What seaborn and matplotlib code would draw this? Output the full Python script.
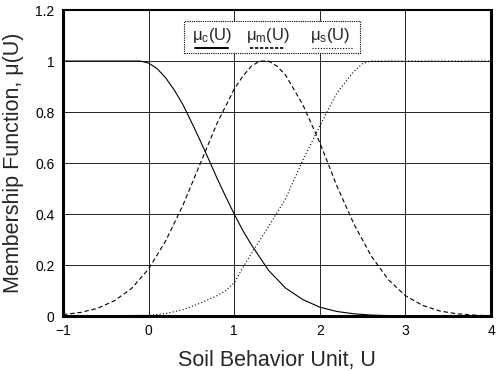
import pandas as pd
import matplotlib.pyplot as plt
import matplotlib.patches as patches
from matplotlib.lines import Line2D
import seaborn as sns

# values
uc_x = [-1.0, -0.5, -0.1, 0.0, 0.1, 0.2, 0.3, 0.4, 0.5, 0.6, 0.7, 0.8, 0.9, 1.0, 1.1, 1.2, 1.4, 1.6, 1.8,
        2.0, 2.2, 2.4, 2.6, 2.8, 3.0, 4.0]
uc_y = [1.0, 1.0, 1.0, 0.992, 0.97, 0.934, 0.886, 0.83, 0.761, 0.69, 0.616, 0.54, 0.469, 0.40, 0.336, 0.28,
        0.18, 0.11, 0.065, 0.035, 0.018, 0.009, 0.004, 0.002, 0.001, 0.0]

um_x = [-1.0, -0.8, -0.6, -0.4, -0.2, 0.0, 0.2, 0.4, 0.6, 0.8, 1.0, 1.1, 1.2, 1.3, 1.4, 1.5, 1.6, 1.8,
        2.0, 2.2, 2.4, 2.6, 2.8, 3.0, 3.2, 3.4, 3.6, 3.8, 4.0]
um_y = [0.006, 0.014, 0.03, 0.06, 0.108, 0.185, 0.295, 0.434, 0.595, 0.756, 0.89, 0.94, 0.98, 1.0, 1.0, 0.98,
        0.945, 0.83, 0.68, 0.51, 0.36, 0.236, 0.143, 0.08, 0.042, 0.02, 0.009, 0.004, 0.001]

us_x = [-1.0, 0.0, 0.2, 0.4, 0.6, 0.8, 0.9, 1.0, 1.1, 1.2, 1.4, 1.6, 1.8, 2.0, 2.2, 2.4, 2.5, 2.6, 3.0, 4.0]
us_y = [0.0, 0.003, 0.01, 0.025, 0.05, 0.08, 0.1, 0.13, 0.19, 0.245, 0.35, 0.46, 0.61, 0.745, 0.875, 0.96,
        0.99, 1.0, 1.0, 1.0]

x_ticks = [-1, 0, 1, 2, 3, 4]
y_ticks = [0, 0.2, 0.4, 0.6, 0.8, 1.0, 1.2]
y_labels = ['0', '0.2', '0.4', '0.6', '0.8', '1', '1.2']
legend_labels = ['μ$_c$(U)', 'μ$_m$(U)', 'μ$_s$(U)']

sns.set_theme(style='white')
plt.rcParams['font.family'] = ['Liberation Sans', 'DejaVu Sans']
plt.rcParams['mathtext.default'] = 'regular'
plt.rcParams['xtick.direction'] = 'in'
plt.rcParams['ytick.direction'] = 'in'

fig = plt.figure(figsize=(5, 3.71), dpi=100)
ax = fig.add_axes([0.126, 0.148, 0.856, 0.825])

# grid first so curves sit on top
ax.grid(True, color='black', linewidth=0.6, linestyle='-')
ax.set_axisbelow(True)

dc = pd.DataFrame({'U': uc_x, 'mu': uc_y})
dm = pd.DataFrame({'U': um_x, 'mu': um_y})
ds = pd.DataFrame({'U': us_x, 'mu': us_y})

dash_m = (0, (4, 2.5))
dot_s = (0, (1, 2))
sns.lineplot(data=dc, x='U', y='mu', color='black', linewidth=0.8, ax=ax)
sns.lineplot(data=dm, x='U', y='mu', color='black', linewidth=0.8, ax=ax, linestyle=dash_m)
sns.lineplot(data=ds, x='U', y='mu', color='black', linewidth=0.8, ax=ax, linestyle=dot_s)

ax.set_xlim(-1, 4)
ax.set_ylim(0, 1.2)
ax.set_xticks(x_ticks)
ax.set_yticks(y_ticks)
ax.set_yticklabels(y_labels)
ax.tick_params(labelsize=10, length=3, width=1, colors='black', pad=6)
ax.set_xlabel('Soil Behavior Unit, U', fontsize=15.5, labelpad=8)
ax.set_ylabel('Membership Function, μ(U)', fontsize=15.5, labelpad=8)

for s in ['left', 'bottom', 'right']:
    ax.spines[s].set_linewidth(2.2)
    ax.spines[s].set_color('black')
ax.spines['top'].set_linewidth(1.5)
ax.spines['top'].set_color('black')

# hand made legend: label above its line sample
box = patches.Rectangle((0.283, 0.859), 0.411, 0.105, transform=ax.transAxes,
                        facecolor='white', edgecolor='black', linewidth=0.8,
                        linestyle=(0, (1, 1)), zorder=5)
ax.add_patch(box)
text_x = [0.348, 0.479, 0.624]
line_x = [(0.308, 0.386), (0.437, 0.519), (0.582, 0.675)]
styles = ['-', (0, (2, 1)), (0, (1, 1.5))]
widths = [1.4, 1.2, 0.8]
for lab, tx, (x0, x1), st, w in zip(legend_labels, text_x, line_x, styles, widths):
    ax.text(tx, 0.918, lab, transform=ax.transAxes, ha='center', va='center',
            fontsize=12, zorder=6)
    ax.add_line(Line2D([x0, x1], [0.876, 0.876], transform=ax.transAxes,
                       color='black', linewidth=w, linestyle=st, zorder=6))

plt.savefig('out.png', dpi=100)
